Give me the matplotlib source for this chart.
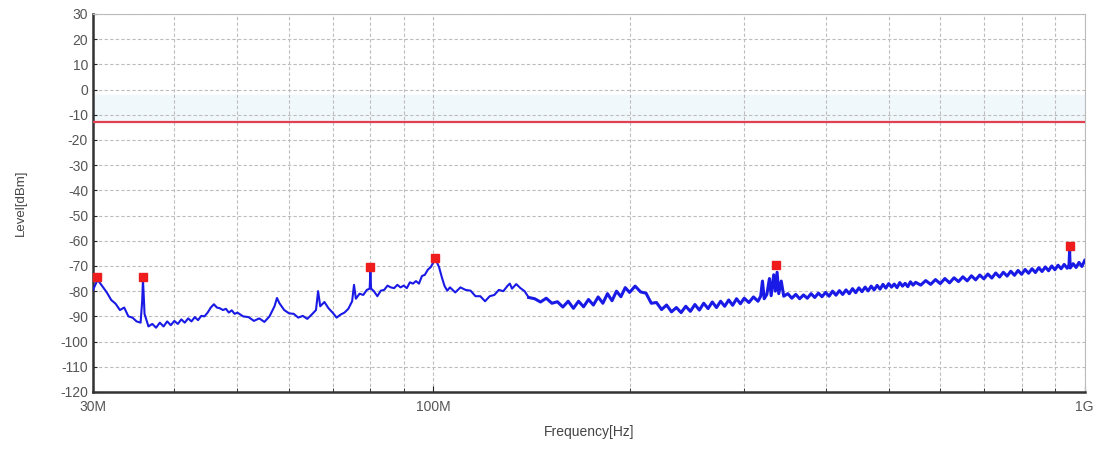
import matplotlib
matplotlib.use("Agg")
import matplotlib.pyplot as plt
from matplotlib.ticker import FixedLocator, NullFormatter

plt.rcParams["font.family"] = ["Liberation Sans", "DejaVu Sans"]
plt.rcParams["axes.unicode_minus"] = False

# scan trace, (MHz, dBm)
trace_30_50 = [
    (30.0, -79.5), (30.5, -75.5), (31.0, -78.0), (31.5, -80.5), (32.0, -83.5),
    (32.5, -85.0), (33.0, -87.5), (33.5, -86.5), (34.0, -90.0), (34.5, -90.5),
    (35.0, -92.0), (35.5, -92.5), (35.7, -84.0), (35.8, -75.5), (35.9, -82.0),
    (36.0, -89.0), (36.5, -94.0), (37.0, -93.0), (37.5, -94.5), (38.0, -92.5),
    (38.5, -94.0), (39.0, -92.0), (39.5, -93.5), (40.0, -91.8), (40.5, -93.0),
    (41.0, -91.2), (41.5, -92.5), (42.0, -90.8), (42.5, -92.0), (43.0, -90.3),
    (43.5, -91.5), (44.0, -89.8), (44.5, -90.0), (45.0, -88.5), (45.5, -86.5),
    (46.0, -85.2), (46.5, -86.5), (47.0, -86.8), (47.5, -87.5), (48.0, -87.0),
    (48.5, -88.5), (49.0, -87.6), (49.5, -89.0), (50.0, -88.5),
]
trace_50_100 = [
    (51, -90.0), (52, -90.3), (53, -91.8), (54, -90.8), (55, -92.2),
    (56, -90.0), (57, -86.0), (57.5, -82.7), (58, -84.8), (59, -87.5),
    (60, -88.8), (61, -89.0), (62, -90.5), (63, -89.8), (64, -91.0),
    (65, -89.3), (66, -87.5), (66.5, -80.0), (67, -86.0), (68, -84.3),
    (69, -86.8), (70, -88.5), (71, -90.5), (72, -89.3), (73, -88.5),
    (74, -87.0), (75, -84.0), (75.5, -77.5), (76, -83.0), (77, -81.0),
    (78, -81.5), (79, -79.5), (79.8, -79.0), (80, -72.0), (80.2, -79.0),
    (81, -80.0), (82, -82.0), (83, -79.8), (84, -79.5), (85, -77.8),
    (86, -78.5), (87, -78.8), (88, -77.5), (89, -78.5), (90, -77.8),
    (91, -78.8), (92, -76.5), (93, -77.0), (94, -76.0), (95, -77.0),
    (96, -74.0), (97, -73.5), (98, -71.5), (99, -70.5), (100, -68.5),
]
trace_100_140 = [
    (101, -68.0), (102, -70.5), (103, -74.5), (104, -78.0), (105, -79.8),
    (106, -78.5), (108, -80.5), (110, -78.5), (112, -79.5), (114, -79.8),
    (116, -82.0), (118, -82.0), (120, -84.0), (122, -82.0), (124, -81.5),
    (126, -79.5), (128, -80.0), (130, -77.8), (131, -77.0), (132, -79.0),
    (134, -77.2), (136, -78.8), (138, -80.0), (140, -82.5),
]
trace_140_300 = [
    (140, -82.5), (143, -83.0), (146, -84.3), (149, -82.8), (152, -84.8),
    (155, -84.2), (158, -86.3), (161, -84.0), (164, -86.8), (167, -84.0),
    (170, -86.2), (173, -83.3), (176, -85.5), (179, -82.3), (182, -84.8),
    (185, -81.0), (188, -83.8), (191, -80.0), (194, -82.2), (197, -78.6),
    (200, -80.5), (204, -78.0), (208, -80.3), (212, -80.8), (216, -84.8),
    (220, -84.5), (224, -87.3), (228, -85.5), (232, -88.2), (236, -86.5),
    (240, -88.5), (244, -86.0), (248, -88.0), (252, -85.3), (256, -87.5),
    (260, -84.8), (264, -86.9), (268, -84.3), (272, -86.5), (276, -84.0),
    (280, -86.0), (284, -83.5), (288, -85.6), (292, -83.0), (296, -85.0),
    (300, -82.8),
]
trace_300_500 = [
    (305, -84.5), (310, -82.3), (315, -84.0), (318, -82.0), (320, -76.0),
    (322, -83.0), (325, -81.3), (328, -75.0), (330, -81.8), (333, -73.5),
    (335, -80.0), (337, -72.5), (339, -81.0), (342, -76.0), (345, -82.0),
    (350, -81.0), (355, -82.8), (360, -81.3), (365, -83.0), (370, -81.5),
    (375, -82.8), (380, -81.0), (385, -82.5), (390, -80.8), (395, -82.2),
    (400, -80.5), (405, -82.0), (410, -80.0), (415, -81.6), (420, -79.8),
    (425, -81.3), (430, -79.5), (435, -81.0), (440, -79.0), (445, -80.6),
    (450, -78.7), (455, -80.2), (460, -78.4), (465, -79.9), (470, -78.0),
    (475, -79.5), (480, -77.7), (485, -79.2), (490, -77.3), (495, -78.8),
    (500, -77.0),
]
trace_500_1000 = [
    (505, -78.4), (510, -77.2), (515, -78.6), (520, -76.6), (525, -78.0),
    (530, -76.9), (535, -78.2), (540, -76.3), (545, -77.6), (550, -76.5),
    (560, -77.6), (570, -75.8), (580, -77.3), (590, -75.4), (600, -77.0),
    (610, -75.0), (620, -76.7), (630, -74.7), (640, -76.2), (650, -74.3),
    (660, -75.9), (670, -73.9), (680, -75.5), (690, -73.6), (700, -75.1),
    (710, -73.2), (720, -74.8), (730, -72.8), (740, -74.4), (750, -72.5),
    (760, -74.0), (770, -72.1), (780, -73.7), (790, -71.8), (800, -73.3),
    (810, -71.4), (820, -72.9), (830, -71.1), (840, -72.6), (850, -70.7),
    (860, -72.2), (870, -70.4), (880, -71.9), (890, -70.0), (900, -71.5),
    (910, -69.7), (920, -71.1), (930, -69.4), (940, -70.9), (946, -69.6),
    (948, -64.0), (950, -70.8), (960, -69.1), (970, -70.6), (980, -68.6),
    (990, -70.2), (1000, -67.8),
]

# peak markers (MHz, dBm)
peak_freq = [30.4, 35.8, 80.0, 100.5, 336.0, 948.0]
peak_level = [-74.5, -74.5, -70.5, -66.8, -69.8, -62.0]

limit_level = -13

low_trace = trace_30_50 + trace_50_100 + trace_100_140
high_trace = trace_140_300 + trace_300_500 + trace_500_1000

fig = plt.figure(figsize=(10.99, 4.49), dpi=100)
ax = fig.add_axes([0.0846, 0.127, 0.9024, 0.842])

ax.set_xscale("log")
ax.set_xlim(30e6, 1e9)
ax.set_ylim(-120, 30)

# faint band above the limit line
ax.axhspan(limit_level, -2, color="#f1f8fc", zorder=0)

ax.xaxis.set_major_locator(FixedLocator([30e6, 100e6, 1e9]))
ax.xaxis.set_minor_locator(FixedLocator(
    [f * 1e6 for f in [40, 50, 60, 70, 80, 90, 200, 300, 400, 500, 600, 700, 800, 900]]))
ax.set_xticklabels(["30M", "100M", "1G"])
ax.xaxis.set_minor_formatter(NullFormatter())
ax.set_yticks(range(-120, 31, 10))

ax.grid(which="both", axis="x", color="#bdbdbd", linestyle=(0, (3, 2)), linewidth=0.8)
ax.grid(which="major", axis="y", color="#bdbdbd", linestyle=(0, (3, 2)), linewidth=0.8)
ax.set_axisbelow(True)

ax.tick_params(axis="both", which="both", direction="in", colors="#222222",
               labelcolor="#555555", labelsize=10)
ax.tick_params(axis="x", which="major", length=4, pad=6)
ax.tick_params(axis="x", which="minor", length=3)
ax.tick_params(axis="y", length=3)

for s in ["left", "bottom"]:
    ax.spines[s].set_color("#333333")
    ax.spines[s].set_linewidth(1.8)
for s in ["top", "right"]:
    ax.spines[s].set_color("#bbbbbb")
    ax.spines[s].set_linewidth(0.8)

ax.axhline(limit_level, color="#e04050", linewidth=1.6, zorder=3)

ax.plot([f * 1e6 for f, _ in low_trace], [l for _, l in low_trace],
        color="#1a1ae6", linewidth=1.5, zorder=4)
ax.plot([f * 1e6 for f, _ in high_trace], [l for _, l in high_trace],
        color="#1a1ae6", linewidth=2.2, zorder=4)
ax.plot([f * 1e6 for f in peak_freq], peak_level, linestyle="none", marker="s",
        markersize=6, color="#ee1c1c", zorder=5, clip_on=False)

ax.set_xlabel("Frequency[Hz]", fontsize=10, color="#444444", labelpad=8)
ax.set_ylabel("Level[dBm]", fontsize=9.5, color="#444444", labelpad=24)

fig.savefig("out.png", dpi=100)
